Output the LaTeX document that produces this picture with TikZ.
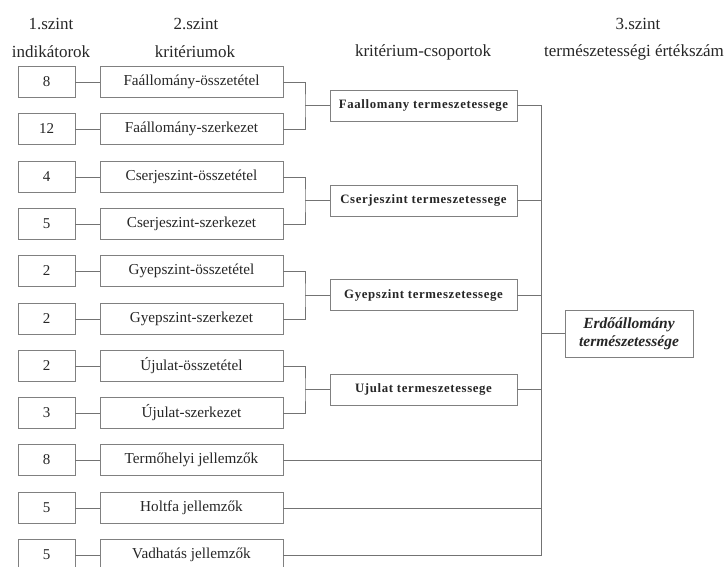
\documentclass[tikz,border=0pt]{standalone}
\usepackage{fontspec}
\setmainfont{Liberation Serif}
\begin{document}
\begin{tikzpicture}[x=1pt,y=-1pt,
  every node/.style={inner sep=0pt, outer sep=0pt, text=black!85},
  boxbase/.style={draw=black!50, line width=0.6pt, minimum height=31pt},
  numbox/.style={boxbase, minimum width=57pt, font=\fontsize{15}{16}\selectfont},
  critbox/.style={boxbase, minimum width=183pt, font=\fontsize{15.2}{16}\selectfont},
  grpbox/.style={boxbase, minimum width=187pt, font=\bfseries\fontsize{12.8}{14}\selectfont\addfontfeatures{LetterSpace=5}},
  finbox/.style={boxbase, minimum width=128pt, minimum height=47pt, align=center, font=\bfseries\itshape\fontsize{15.5}{18}\selectfont},
  head/.style={font=\fontsize{17}{19}\selectfont},
  conn/.style={draw=black!55, line width=0.6pt}
]
\useasboundingbox (0,0) rectangle (727,566);

% headings
\node[head] (h1a) at (51,24) {1.szint};
\node[head] (h1b) at (51,52) {indikátorok};
\node[head] (h2a) at (196,24) {2.szint};
\node[head] (h2b) at (195,52) {kritériumok};
\node[head] (h3) at (423,52) {kritérium-csoportok};
\node[head] (h4a) at (638,24) {3.szint};
\node[head] (h4b) at (634,52) {természetességi értékszám};

% level 1 and 2 rows
\node[numbox] (n1) at (46.5,82) {8};
\node[numbox] (n2) at (46.5,129) {12};
\node[numbox] (n3) at (46.5,177) {4};
\node[numbox] (n4) at (46.5,224) {5};
\node[numbox] (n5) at (46.5,271) {2};
\node[numbox] (n6) at (46.5,319) {2};
\node[numbox] (n7) at (46.5,366) {2};
\node[numbox] (n8) at (46.5,413) {3};
\node[numbox] (n9) at (46.5,460) {8};
\node[numbox] (n10) at (46.5,508) {5};
\node[numbox] (n11) at (46.5,555) {5};

\node[critbox] (c1) at (191.5,82) {Faállomány-összetétel};
\node[critbox] (c2) at (191.5,129) {Faállomány-szerkezet};
\node[critbox] (c3) at (191.5,177) {Cserjeszint-összetétel};
\node[critbox] (c4) at (191.5,224) {Cserjeszint-szerkezet};
\node[critbox] (c5) at (191.5,271) {Gyepszint-összetétel};
\node[critbox] (c6) at (191.5,319) {Gyepszint-szerkezet};
\node[critbox] (c7) at (191.5,366) {Újulat-összetétel};
\node[critbox] (c8) at (191.5,413) {Újulat-szerkezet};
\node[critbox] (c9) at (191.5,460) {Termőhelyi jellemzők};
\node[critbox] (c10) at (191.5,508) {Holtfa jellemzők};
\node[critbox] (c11) at (191.5,555) {Vadhatás jellemzők};

% groups
\node[grpbox] (g1) at (423.5,105.5) {Faallomany termeszetessege};
\node[grpbox] (g2) at (423.5,200.5) {Cserjeszint termeszetessege};
\node[grpbox] (g3) at (423.5,295) {Gyepszint termeszetessege};
\node[grpbox] (g4) at (423.5,389.5) {Ujulat termeszetessege};

% final
\node[finbox] (f) at (629,333.5) {Erdőállomány\\természetessége};

% connectors level 1 -> 2
\foreach \i in {1,...,11} { \draw[conn] (n\i) -- (c\i); }

% brackets to groups
\coordinate (j1) at (305,105.5);
\coordinate (j2) at (305,200.5);
\coordinate (j3) at (305,295);
\coordinate (j4) at (305,389.5);
\draw[conn] (c1.east) -| (j1) |- (c2.east);
\draw[conn] (c3.east) -| (j2) |- (c4.east);
\draw[conn] (c5.east) -| (j3) |- (c6.east);
\draw[conn] (c7.east) -| (j4) |- (c8.east);
\draw[conn] (j1) -- (g1);
\draw[conn] (j2) -- (g2);
\draw[conn] (j3) -- (g3);
\draw[conn] (j4) -- (g4);

% bus to final
\coordinate (bb) at (541,555);
\draw[conn] (g1.east) -| (bb) -- (c11.east);
\draw[conn] (g2.east) -- (g2.east -| bb);
\draw[conn] (g3.east) -- (g3.east -| bb);
\draw[conn] (g4.east) -- (g4.east -| bb);
\draw[conn] (c9.east) -- (c9.east -| bb);
\draw[conn] (c10.east) -- (c10.east -| bb);
\draw[conn] (f.west) -- (f.west -| bb);
\end{tikzpicture}
\end{document}
